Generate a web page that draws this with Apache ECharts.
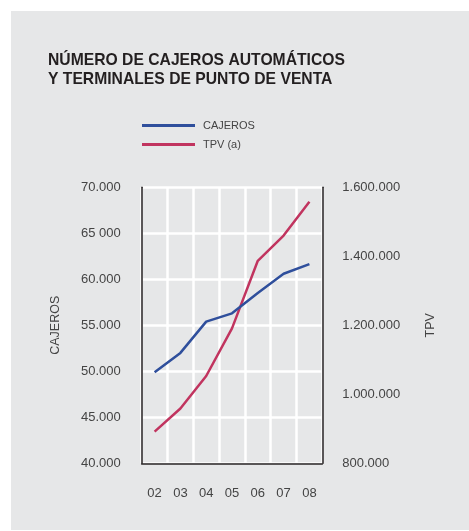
<!DOCTYPE html>
<html>
<head>
<meta charset="utf-8">
<script src="https://cdn.jsdelivr.net/npm/echarts@6/dist/echarts.min.js"></script>
<style>
html,body{margin:0;padding:0;background:#ffffff;}
#chart{width:469px;height:531px;}
</style>
</head>
<body>
<div id="chart"></div>
<script>
var categories = ['02','03','04','05','06','07','08'];
var cajeros = [49900, 52000, 55400, 56300, 58500, 60600, 61650];
var tpv = [892000, 959000, 1053000, 1191000, 1387000, 1460000, 1558000];
var leftTickLabels = ['40.000','45.000','50.000','55.000','60.000','65 000','70.000'];
var rightTickLabels = ['800.000','1.000.000','1.200.000','1.400.000','1.600.000'];
var titleLines = ['NÚMERO DE CAJEROS AUTOMÁTICOS', 'Y TERMINALES DE PUNTO DE VENTA'];

var FONT = '"Liberation Sans", Arial, sans-serif';
var BLUE = '#2f4f9c';
var RED = '#c1345f';
var TXT = '#444444';
var AXIS = '#231f20';

var chart = echarts.init(document.getElementById('chart'), null, {renderer:'canvas'});
chart.setOption({
  backgroundColor: '#ffffff',
  animation: false,
  graphic: [{
    type: 'rect', left: 11, top: 11, z: -10,
    shape: {width: 458, height: 519},
    style: {fill: '#e6e7e8'}
  }],
  title: {
    text: titleLines.join('\n'),
    left: 43, top: 46,
    textStyle: {fontFamily: FONT, fontSize: 15.7, fontWeight: 'bold', color: '#231f20', lineHeight: 19}
  },
  legend: {
    orient: 'vertical',
    left: 142, top: 119, padding: 0,
    itemWidth: 53, itemHeight: 3, itemGap: 6,
    icon: 'rect',
    textStyle: {fontFamily: FONT, fontSize: 11, color: TXT, lineHeight: 13, padding: [0,0,0,3]},
    data: ['CAJEROS', 'TPV (a)']
  },
  grid: {left: 141.7, right: 146.7, top: 187.3, bottom: 67.7},
  xAxis: {
    type: 'category',
    data: categories,
    boundaryGap: true,
    axisLine: {show: true, lineStyle: {color: AXIS, width: 1.5}},
    axisTick: {show: false},
    axisLabel: {fontFamily: FONT, fontSize: 13, color: TXT, margin: 24},
    splitLine: {show: true, lineStyle: {color: '#ffffff', width: 2.5}}
  },
  yAxis: [{
    type: 'value',
    min: 40000, max: 70000, interval: 5000,
    position: 'left',
    name: 'CAJEROS', nameLocation: 'middle', nameRotate: 90, nameGap: 80,
    nameTextStyle: {fontFamily: FONT, fontSize: 12.5, color: TXT},
    axisLine: {show: true, lineStyle: {color: AXIS, width: 1.5}},
    axisTick: {show: false},
    axisLabel: {fontFamily: FONT, fontSize: 13, color: TXT, margin: 21,
      formatter: function(v){ return leftTickLabels[Math.round((v-40000)/5000)]; }},
    splitLine: {show: true, lineStyle: {color: '#ffffff', width: 2.5}}
  },{
    type: 'value',
    min: 800000, max: 1600000, interval: 200000,
    position: 'right',
    name: 'TPV', nameLocation: 'middle', nameRotate: 90, nameGap: 102,
    nameTextStyle: {fontFamily: FONT, fontSize: 12.5, color: TXT},
    axisLine: {show: true, lineStyle: {color: AXIS, width: 1.5}},
    axisTick: {show: false},
    axisLabel: {fontFamily: FONT, fontSize: 13, color: TXT, margin: 20,
      formatter: function(v){ return rightTickLabels[Math.round((v-800000)/200000)]; }},
    splitLine: {show: false}
  }],
  series: [{
    name: 'CAJEROS', type: 'line', yAxisIndex: 0, data: cajeros,
    symbol: 'none', lineStyle: {color: BLUE, width: 2.5}, itemStyle: {color: BLUE}, z: 3
  },{
    name: 'TPV (a)', type: 'line', yAxisIndex: 1, data: tpv,
    symbol: 'none', lineStyle: {color: RED, width: 2.5}, itemStyle: {color: RED}, z: 2
  }]
});
</script>
</body>
</html>
